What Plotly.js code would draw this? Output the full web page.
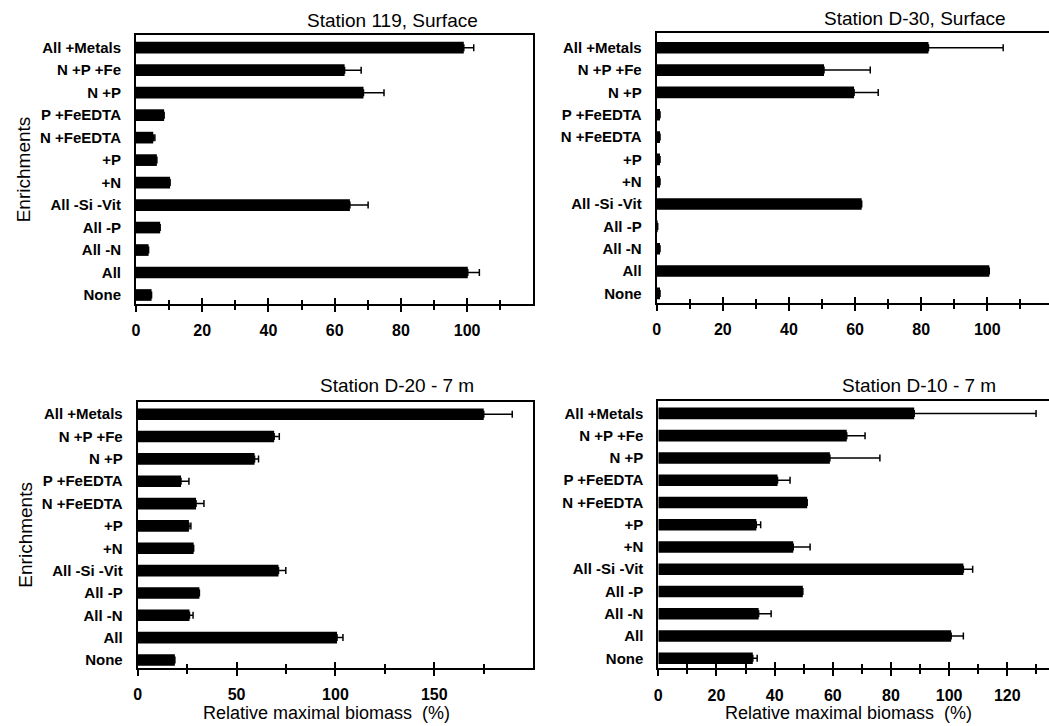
<!DOCTYPE html>
<html><head><meta charset="utf-8">
<script src="https://cdn.plot.ly/plotly-3.0.1.min.js"></script>
<style>html,body{margin:0;padding:0;background:#fff}</style>
</head><body><div id="chart" style="width:1049px;height:726px"></div>
<script>
// ---- data ----
const categories = ["All +Metals","N +P +Fe","N +P","P +FeEDTA","N +FeEDTA","+P","+N","All -Si -Vit","All -P","All -N","All","None"];
const panelTitles = ["Station 119, Surface","Station D-30, Surface","Station D-20 - 7 m","Station D-10 - 7 m"];
const xTitle = "Relative maximal biomass  (%)";
const yTitle = "Enrichments";
const st119    = [99, 63, 68.7, 8.5, 5.2, 6.3, 10.3, 64.6, 7.3, 3.8, 100.2, 4.7];
const st119Err = [3, 5, 6.2, 0, 0.5, 0, 0, 5.5, 0, 0, 3.5, 0];
const d30      = [82.2, 50.6, 59.7, 1, 1, 1, 1, 62, 0.3, 1, 100.6, 1];
const d30Err   = [22.6, 14, 7.3, 0, 0, 0, 0, 0, 0, 0, 0, 0];
const d20      = [175, 69, 59.1, 21.9, 29.5, 25.9, 28.3, 71.2, 31.2, 26.2, 100.8, 18.8];
const d20Err   = [14.4, 2.6, 2, 4, 4, 1, 0, 3.7, 0, 1.8, 3, 0];
const d10      = [88, 64.8, 59, 41, 51.2, 33.7, 46.4, 104.9, 49.7, 34.5, 100.7, 32.5];
const d10Err   = [41.9, 6.3, 17.2, 4.3, 0, 1.5, 5.8, 3.2, 0, 4.3, 4.2, 1.5];

const series = [st119, d30, d20, d10];
const errors = [st119Err, d30Err, d20Err, d10Err];

// ---- layout geometry (pixels) ----
const W = 1049, H = 726;
const panels = [
  {x0:136,   x1:533,  y0:35,    y1:304,   xr:[0,119.9], dtick:20, minor:10, yr:[11.4,-0.565], frame:true,  yt:true,  xt:false, tx:392, ty:20},
  {x0:656.7, x1:1049, y0:33,    y1:303,   xr:[0,118.66],dtick:20, minor:10, yr:[11.43,-0.66], frame:false, yt:false, xt:false, tx:915, ty:18},
  {x0:137.7, x1:533,  y0:401.7, y1:668,   xr:[0,199.9], dtick:50, minor:25, yr:[11.36,-0.56], frame:true,  yt:true,  xt:true,  tx:397, ty:385, xtx:326},
  {x0:658.3, x1:1049, y0:400.7, y1:668.3, xr:[0,134.35],dtick:20, minor:10, yr:[11.45,-0.57], frame:false, yt:false, xt:true,  tx:919, ty:385, xtx:848}
];

const FONT = "Liberation Sans, Arial, Helvetica, sans-serif";
const traces = [];
const layout = {
  width: W, height: H,
  margin: {l:0, r:0, t:0, b:0},
  paper_bgcolor: "#fff", plot_bgcolor: "#fff",
  showlegend: false,
  font: {family: FONT, color: "#000"},
  annotations: []
};

panels.forEach((p, i) => {
  const n = i + 1;
  const xs = n === 1 ? "" : String(n);
  const over = String(n + 4);
  traces.push({
    type: "bar", orientation: "h",
    x: series[i], y: categories,
    xaxis: "x" + xs, yaxis: "y" + xs,
    width: 0.52,
    marker: {color: "#000", line: {width: 0}},
    error_x: {type: "data", symmetric: false, array: errors[i],
              arrayminus: errors[i].map(() => 0),
              color: "#000", thickness: 1.5, width: 3.5},
    hoverinfo: "x+y"
  });
  // empty helper trace so the overlay axis (inner half of crossing ticks) is drawn
  traces.push({type: "scatter", mode: "markers", x: [], y: [], xaxis: "x" + over, yaxis: "y" + xs, hoverinfo: "skip"});
  const xd = [p.x0 / W, p.x1 / W];
  const yd = [1 - p.y1 / H, 1 - p.y0 / H];
  layout["xaxis" + xs] = {
    domain: xd, anchor: "y" + xs, range: p.xr,
    showgrid: false, zeroline: false,
    showline: true, linewidth: 2, linecolor: "#000", mirror: true,
    ticks: "outside", ticklen: 6, tickwidth: 2, tickcolor: "#000",
    dtick: p.dtick, tick0: 0,
    minor: {dtick: p.minor, ticks: "outside", ticklen: 4, tickwidth: 2, tickcolor: "#000"},
    ticklabelstandoff: 5,
    tickfont: {family: FONT, size: 16, weight: "bold", color: "#000"}
  };
  layout["xaxis" + over] = {
    overlaying: "x" + xs, anchor: "y" + xs, range: p.xr, side: "bottom",
    showgrid: false, zeroline: false, showline: false, showticklabels: false,
    ticks: "inside", ticklen: 6, tickwidth: 2, tickcolor: "#000",
    dtick: p.dtick, tick0: 0,
    minor: {dtick: p.minor, ticks: "inside", ticklen: 4, tickwidth: 2, tickcolor: "#000"}
  };
  layout["yaxis" + xs] = {
    domain: yd, anchor: "x" + xs,
    type: "category", categoryorder: "array", categoryarray: categories,
    range: p.yr,
    showgrid: false, zeroline: false,
    showline: true, linewidth: 2, linecolor: "#000", mirror: p.frame,
    ticks: "", ticklabelstandoff: 10,
    tickfont: {family: FONT, size: 15, weight: "bold", color: "#000"},
    title: p.yt ? {text: yTitle, standoff: 4, font: {family: FONT, size: 19, color: "#000"}} : {text: ""}
  };
  layout.annotations.push({
    text: panelTitles[i], xref: "paper", yref: "paper",
    x: p.tx / W, y: 1 - p.ty / H, xanchor: "center", yanchor: "middle",
    showarrow: false, font: {family: FONT, size: 19, color: "#000"}
  });
  if (p.xt) {
    layout.annotations.push({
      text: xTitle, xref: "paper", yref: "paper",
      x: p.xtx / W, y: 1 - 713 / H, xanchor: "center", yanchor: "middle",
      showarrow: false, borderpad: 0, font: {family: FONT, size: 18, color: "#000"}
    });
  }
});

Plotly.newPlot("chart", traces, layout, {staticPlot: true, displayModeBar: false});
</script>
</body></html>
